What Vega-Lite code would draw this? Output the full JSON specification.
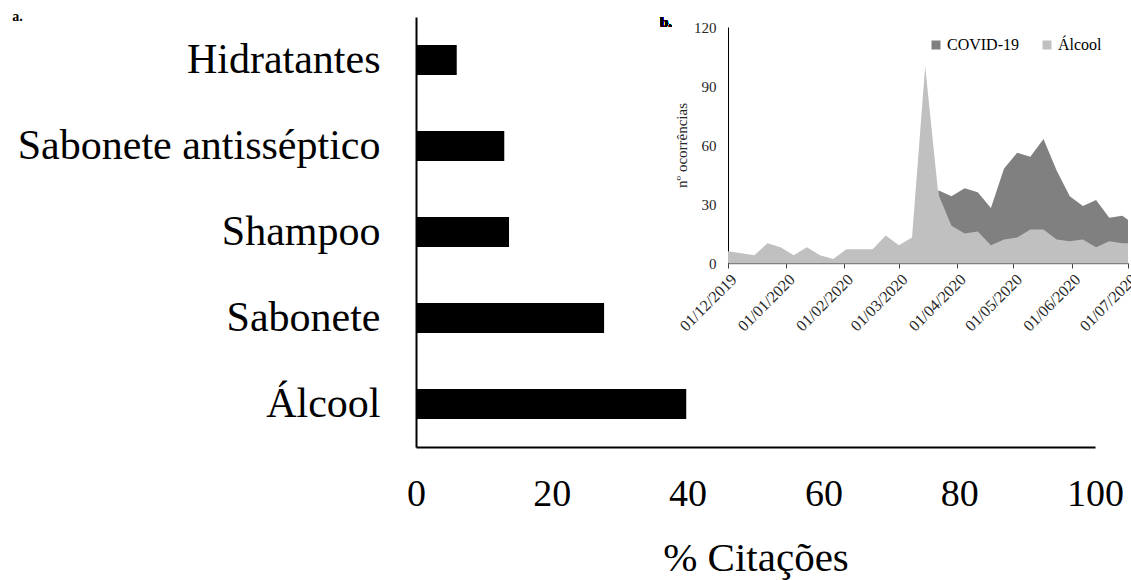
{
  "$schema": "https://vega.github.io/schema/vega-lite/v6.json",
  "autosize": {"type": "none"},
  "padding": {"left": 416, "top": 17, "right": 36, "bottom": 133},
  "width": 679,
  "height": 430,
  "background": "white",
  "config": {
    "font": "Liberation Serif",
    "view": {"stroke": null},
    "axis": {"grid": false, "labelFont": "Liberation Serif", "titleFont": "Liberation Serif"},
    "legend": {"labelFont": "Liberation Serif", "titleFont": "Liberation Serif"},
    "title": {"font": "Liberation Serif"},
    "text": {"font": "Liberation Serif"}
  },
  "title": {"text": "a.", "anchor": "start", "frame": "bounds", "fontSize": 14, "fontWeight": "bold", "color": "black", "font": "Liberation Serif", "dy": 13, "dx": -5},
  "datasets": {
    "bars": [
      {"categoria": "Hidratantes", "citacoes": 6.0},
      {"categoria": "Sabonete antisséptico", "citacoes": 13.0},
      {"categoria": "Shampoo", "citacoes": 13.7},
      {"categoria": "Sabonete", "citacoes": 27.7},
      {"categoria": "Álcool", "citacoes": 39.8}
    ],
    "series": [
      {"date": "2019-12-01", "series": "Álcool", "n": 6},
      {"date": "2019-12-08", "series": "Álcool", "n": 5},
      {"date": "2019-12-15", "series": "Álcool", "n": 4},
      {"date": "2019-12-22", "series": "Álcool", "n": 10},
      {"date": "2019-12-29", "series": "Álcool", "n": 8},
      {"date": "2020-01-05", "series": "Álcool", "n": 4},
      {"date": "2020-01-12", "series": "Álcool", "n": 8},
      {"date": "2020-01-19", "series": "Álcool", "n": 4},
      {"date": "2020-01-26", "series": "Álcool", "n": 2},
      {"date": "2020-02-02", "series": "Álcool", "n": 7},
      {"date": "2020-02-09", "series": "Álcool", "n": 7},
      {"date": "2020-02-16", "series": "Álcool", "n": 7},
      {"date": "2020-02-23", "series": "Álcool", "n": 14},
      {"date": "2020-03-01", "series": "Álcool", "n": 9},
      {"date": "2020-03-08", "series": "Álcool", "n": 13},
      {"date": "2020-03-15", "series": "Álcool", "n": 100},
      {"date": "2020-03-22", "series": "Álcool", "n": 35},
      {"date": "2020-03-29", "series": "Álcool", "n": 19},
      {"date": "2020-04-05", "series": "Álcool", "n": 15},
      {"date": "2020-04-12", "series": "Álcool", "n": 16},
      {"date": "2020-04-19", "series": "Álcool", "n": 9},
      {"date": "2020-04-26", "series": "Álcool", "n": 12},
      {"date": "2020-05-03", "series": "Álcool", "n": 13},
      {"date": "2020-05-10", "series": "Álcool", "n": 17},
      {"date": "2020-05-17", "series": "Álcool", "n": 17},
      {"date": "2020-05-24", "series": "Álcool", "n": 12},
      {"date": "2020-05-31", "series": "Álcool", "n": 11},
      {"date": "2020-06-07", "series": "Álcool", "n": 12},
      {"date": "2020-06-14", "series": "Álcool", "n": 8},
      {"date": "2020-06-21", "series": "Álcool", "n": 11},
      {"date": "2020-06-28", "series": "Álcool", "n": 10},
      {"date": "2020-07-01", "series": "Álcool", "n": 10},
      {"date": "2020-03-22", "series": "COVID-19", "n": 37},
      {"date": "2020-03-29", "series": "COVID-19", "n": 34},
      {"date": "2020-04-05", "series": "COVID-19", "n": 38},
      {"date": "2020-04-12", "series": "COVID-19", "n": 36},
      {"date": "2020-04-19", "series": "COVID-19", "n": 28},
      {"date": "2020-04-26", "series": "COVID-19", "n": 48},
      {"date": "2020-05-03", "series": "COVID-19", "n": 56},
      {"date": "2020-05-10", "series": "COVID-19", "n": 54},
      {"date": "2020-05-17", "series": "COVID-19", "n": 63},
      {"date": "2020-05-24", "series": "COVID-19", "n": 47},
      {"date": "2020-05-31", "series": "COVID-19", "n": 34},
      {"date": "2020-06-07", "series": "COVID-19", "n": 29},
      {"date": "2020-06-14", "series": "COVID-19", "n": 32},
      {"date": "2020-06-21", "series": "COVID-19", "n": 23},
      {"date": "2020-06-28", "series": "COVID-19", "n": 24},
      {"date": "2020-07-01", "series": "COVID-19", "n": 22}
    ]
  },
  "layer": [
    {
      "data": {"name": "bars"},
      "mark": {"type": "bar", "color": "black", "size": 30},
      "encoding": {
        "y": {
          "field": "categoria", "type": "nominal", "sort": null,
          "axis": {"title": null, "ticks": false, "domainColor": "black", "domainWidth": 2, "labelFont": "Liberation Serif", "labelFontSize": 42, "labelColor": "black", "labelPadding": 36, "labelLimit": 600}
        },
        "x": {
          "field": "citacoes", "type": "quantitative",
          "scale": {"domain": [0, 100], "nice": false},
          "axis": {"title": "% Citações", "values": [0, 20, 40, 60, 80, 100], "ticks": false, "domainColor": "black", "domainWidth": 2, "labelFont": "Liberation Serif", "labelFontSize": 38, "labelColor": "black", "labelPadding": 28, "labelFlush": false, "titleFont": "Liberation Serif", "titleFontSize": 41, "titleFontWeight": "normal", "titleColor": "black", "titlePadding": 25}
        }
      }
    },
    {
      "data": {"name": "series"},
      "encoding": {
        "x": {
          "field": "date", "type": "temporal",
          "scale": {"domain": [{"year": 2019, "month": 12, "date": 1}, {"year": 2020, "month": 7, "date": 1}], "range": [312, 712], "nice": false},
          "axis": {"orient": "bottom", "offset": -184, "title": null, "format": "%d/%m/%Y", "labelAngle": -45,
            "values": [{"year": 2019, "month": 12, "date": 1}, {"year": 2020, "month": 1, "date": 1}, {"year": 2020, "month": 2, "date": 1}, {"year": 2020, "month": 3, "date": 1}, {"year": 2020, "month": 4, "date": 1}, {"year": 2020, "month": 5, "date": 1}, {"year": 2020, "month": 6, "date": 1}, {"year": 2020, "month": 7, "date": 1}],
            "labelFont": "Liberation Serif", "labelFontSize": 16, "labelColor": "#262626", "tickColor": "#404040", "tickSize": 5, "domainColor": "#808080", "domainWidth": 1.5, "labelFlush": false, "labelOverlap": false, "labelPadding": 3,
            "encode": {"labels": {"update": {"dx": {"signal": "datum.value >= datetime(2020, 6, 1) ? -14 : 0"}}}}}
        },
        "y": {
          "field": "n", "type": "quantitative", "stack": null,
          "scale": {"domain": [0, 120], "range": [246, 10], "nice": false},
          "axis": {"orient": "left", "offset": -312, "title": "nº ocorrências", "values": [0, 30, 60, 90, 120], "ticks": false, "domainColor": "black", "domainWidth": 1, "labelFont": "Liberation Serif", "labelFontSize": 15, "labelColor": "#262626", "labelPadding": 12, "titleFont": "Liberation Serif", "titleFontSize": 15, "titleFontWeight": "normal", "titleColor": "#262626", "titlePadding": 4}
        }
      },
      "layer": [
        {
          "transform": [{"filter": "datum.series === 'COVID-19'"}],
          "mark": {"type": "area", "opacity": 1},
          "encoding": {
            "color": {"field": "series", "type": "nominal",
              "scale": {"domain": ["COVID-19", "Álcool"], "range": ["#808080", "#c0c0c0"]},
              "legend": {"title": null, "orient": "none", "legendX": 512, "legendY": 20, "direction": "horizontal", "symbolType": "square", "symbolSize": 81, "symbolStrokeWidth": 0, "symbolOpacity": 1, "labelFont": "Liberation Serif", "labelFontSize": 16, "labelColor": "black", "labelOffset": 3, "columnPadding": 20}}
          }
        },
        {
          "transform": [{"filter": "datum.series === 'Álcool'"}],
          "mark": {"type": "area", "opacity": 1},
          "encoding": {
            "color": {"field": "series", "type": "nominal"}
          }
        },
        {
          "mark": {"type": "text", "text": "b.", "font": "Liberation Serif", "fontSize": 15, "fontWeight": "bold", "align": "center", "baseline": "alphabetic", "color": "black"},
          "encoding": {
            "x": {"datum": {"year": 2019, "month": 10, "date": 29}, "type": "temporal"},
            "y": {"datum": 120, "type": "quantitative"}
          }
        }
      ]
    }
  ],
  "resolve": {
    "scale": {"x": "independent", "y": "independent"},
    "axis": {"x": "independent", "y": "independent"}
  }
}
